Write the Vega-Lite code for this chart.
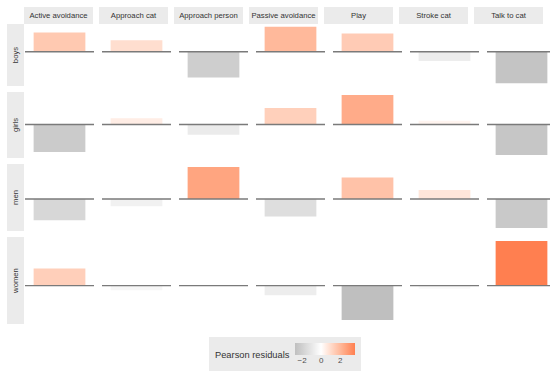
{
  "$schema": "https://vega.github.io/schema/vega-lite/v6.json",
  "padding": {"left": 7, "top": 7, "right": 5, "bottom": 5},
  "autosize": {"type": "pad"},
  "background": "white",
  "config": {
    "view": {"stroke": null},
    "font": "Liberation Sans",
    "concat": {"spacing": 0},
    "facet": {"spacing": 6}
  },
  "datasets": {
    "d": [
      {"group": "boys", "behaviour": "Active avoidance", "residual": 1.55},
      {"group": "boys", "behaviour": "Approach cat", "residual": 0.93},
      {"group": "boys", "behaviour": "Approach person", "residual": -2.08},
      {"group": "boys", "behaviour": "Passive avoidance", "residual": 2.0},
      {"group": "boys", "behaviour": "Play", "residual": 1.47},
      {"group": "boys", "behaviour": "Stroke cat", "residual": -0.75},
      {"group": "boys", "behaviour": "Talk to cat", "residual": -2.53},
      {"group": "girls", "behaviour": "Active avoidance", "residual": -2.21},
      {"group": "girls", "behaviour": "Approach cat", "residual": 0.5},
      {"group": "girls", "behaviour": "Approach person", "residual": -0.83},
      {"group": "girls", "behaviour": "Passive avoidance", "residual": 1.33},
      {"group": "girls", "behaviour": "Play", "residual": 2.37},
      {"group": "girls", "behaviour": "Stroke cat", "residual": 0.3},
      {"group": "girls", "behaviour": "Talk to cat", "residual": -2.45},
      {"group": "men", "behaviour": "Active avoidance", "residual": -1.71},
      {"group": "men", "behaviour": "Approach cat", "residual": -0.59},
      {"group": "men", "behaviour": "Approach person", "residual": 2.56},
      {"group": "men", "behaviour": "Passive avoidance", "residual": -1.41},
      {"group": "men", "behaviour": "Play", "residual": 1.73},
      {"group": "men", "behaviour": "Stroke cat", "residual": 0.72},
      {"group": "men", "behaviour": "Talk to cat", "residual": -2.32},
      {"group": "women", "behaviour": "Active avoidance", "residual": 1.36},
      {"group": "women", "behaviour": "Approach cat", "residual": -0.37},
      {"group": "women", "behaviour": "Approach person", "residual": 0.03},
      {"group": "women", "behaviour": "Passive avoidance", "residual": -0.77},
      {"group": "women", "behaviour": "Play", "residual": -2.75},
      {"group": "women", "behaviour": "Stroke cat", "residual": -0.24},
      {"group": "women", "behaviour": "Talk to cat", "residual": 3.57}
    ]
  },
  "resolve": {"scale": {"y": "independent", "x": "independent"}},
  "spacing": 6,
  "vconcat": [
    {
      "spacing": 0,
      "resolve": {"scale": {"y": "independent", "x": "independent"}},
      "vconcat": [
        {
          "spacing": 0,
          "hconcat": [
            {"width": 17, "height": 17, "data": {"values": [{"t": ""}]}, "mark": {"type": "text"}, "encoding": {"text": {"field": "t"}}},
            {
              "data": {"name": "d"},
              "transform": [{"filter": "datum.group === 'boys'"}],
              "facet": {"column": {"field": "behaviour", "header": null}},
              "spacing": 6,
              "spec": {
                "width": 69, "height": 17,
                "view": {"fill": "#EBEBEB", "stroke": null},
                "mark": {"type": "text", "fontSize": 7.7, "color": "#333333"},
                "encoding": {"text": {"field": "behaviour"}}
              }
            }
          ]
        },
        {
          "spacing": 0,
          "hconcat": [
            {"width": 17, "height": 62, "data": {"values": [{"g": "boys"}]}, "view": {"fill": "#EBEBEB", "stroke": null}, "mark": {"type": "text", "angle": 270, "fontSize": 7.7, "color": "#333333"}, "encoding": {"text": {"field": "g"}}},
            {
              "data": {"name": "d"},
              "transform": [{"filter": "datum.group === 'boys'"}],
              "facet": {"column": {"field": "behaviour", "header": null}},
              "spacing": 6,
              "spec": {
                "width": 69, "height": 62,
                "layer": [
                  {"mark": {"type": "bar"},
                   "encoding": {
                     "x": {"field": "group", "type": "nominal", "axis": null, "scale": {"paddingInner": 0, "paddingOuter": 0.1667}},
                     "y": {"field": "residual", "type": "quantitative", "axis": null, "scale": {"domain": [-2.7565, 2.2265], "nice": false, "zero": false}},
                     "color": {"field": "residual", "type": "quantitative", "scale": {"domain": [-2.75, 0, 3.57], "range": ["#BFBFBF", "#FFFFFF", "#FF7F50"], "interpolate": "lab"},
                       "legend": {"title": ["", "Pearson residuals"], "titleLineHeight": 9, "orient": "none", "legendX": 202, "legendY": 330, "direction": "horizontal", "titleOrient": "left", "titleBaseline": "top", "gradientLength": 60, "gradientThickness": 12, "fillColor": "#EBEBEB", "padding": 6, "values": [-2, 0, 2], "titleFontSize": 9.3, "titleFontWeight": "normal", "titleColor": "#333333", "labelFontSize": 8, "labelColor": "#4D4D4D", "titlePadding": 5, "gradientStrokeWidth": 0}}
                   }},
                  {"mark": {"type": "rule", "color": "#7A7A7A", "strokeWidth": 1.4}, "encoding": {"y": {"datum": 0, "type": "quantitative"}}}
                ]
              }
            }
          ]
        }
      ]
    },
    {
      "spacing": 0,
      "hconcat": [
        {"width": 17, "height": 66, "data": {"values": [{"g": "girls"}]}, "view": {"fill": "#EBEBEB", "stroke": null}, "mark": {"type": "text", "angle": 270, "fontSize": 7.7, "color": "#333333"}, "encoding": {"text": {"field": "g"}}},
        {
          "data": {"name": "d"},
          "transform": [{"filter": "datum.group === 'girls'"}],
          "facet": {"column": {"field": "behaviour", "header": null}},
          "spacing": 6,
          "spec": {
            "width": 69, "height": 66,
            "layer": [
              {"mark": {"type": "bar"},
               "encoding": {
                 "x": {"field": "group", "type": "nominal", "axis": null, "scale": {"paddingInner": 0, "paddingOuter": 0.1667}},
                 "y": {"field": "residual", "type": "quantitative", "axis": null, "scale": {"domain": [-2.691, 2.611], "nice": false, "zero": false}},
                 "color": {"field": "residual", "type": "quantitative"}
               }},
              {"mark": {"type": "rule", "color": "#7A7A7A", "strokeWidth": 1.4}, "encoding": {"y": {"datum": 0, "type": "quantitative"}}}
            ]
          }
        }
      ]
    },
    {
      "spacing": 0,
      "hconcat": [
        {"width": 17, "height": 67, "data": {"values": [{"g": "men"}]}, "view": {"fill": "#EBEBEB", "stroke": null}, "mark": {"type": "text", "angle": 270, "fontSize": 7.7, "color": "#333333"}, "encoding": {"text": {"field": "g"}}},
        {
          "data": {"name": "d"},
          "transform": [{"filter": "datum.group === 'men'"}],
          "facet": {"column": {"field": "behaviour", "header": null}},
          "spacing": 6,
          "spec": {
            "width": 69, "height": 67,
            "layer": [
              {"mark": {"type": "bar"},
               "encoding": {
                 "x": {"field": "group", "type": "nominal", "axis": null, "scale": {"paddingInner": 0, "paddingOuter": 0.1667}},
                 "y": {"field": "residual", "type": "quantitative", "axis": null, "scale": {"domain": [-2.564, 2.804], "nice": false, "zero": false}},
                 "color": {"field": "residual", "type": "quantitative"}
               }},
              {"mark": {"type": "rule", "color": "#7A7A7A", "strokeWidth": 1.4}, "encoding": {"y": {"datum": 0, "type": "quantitative"}}}
            ]
          }
        }
      ]
    },
    {
      "spacing": 0,
      "hconcat": [
        {"width": 17, "height": 87, "data": {"values": [{"g": "women"}]}, "view": {"fill": "#EBEBEB", "stroke": null}, "mark": {"type": "text", "angle": 270, "fontSize": 7.7, "color": "#333333"}, "encoding": {"text": {"field": "g"}}},
        {
          "data": {"name": "d"},
          "transform": [{"filter": "datum.group === 'women'"}],
          "facet": {"column": {"field": "behaviour", "header": null}},
          "spacing": 6,
          "spec": {
            "width": 69, "height": 87,
            "layer": [
              {"mark": {"type": "bar"},
               "encoding": {
                 "x": {"field": "group", "type": "nominal", "axis": null, "scale": {"paddingInner": 0, "paddingOuter": 0.1667}},
                 "y": {"field": "residual", "type": "quantitative", "axis": null, "scale": {"domain": [-3.066, 3.886], "nice": false, "zero": false}},
                 "color": {"field": "residual", "type": "quantitative"}
               }},
              {"mark": {"type": "rule", "color": "#7A7A7A", "strokeWidth": 1.4}, "encoding": {"y": {"datum": 0, "type": "quantitative"}}}
            ]
          }
        }
      ]
    }
  ]
}
